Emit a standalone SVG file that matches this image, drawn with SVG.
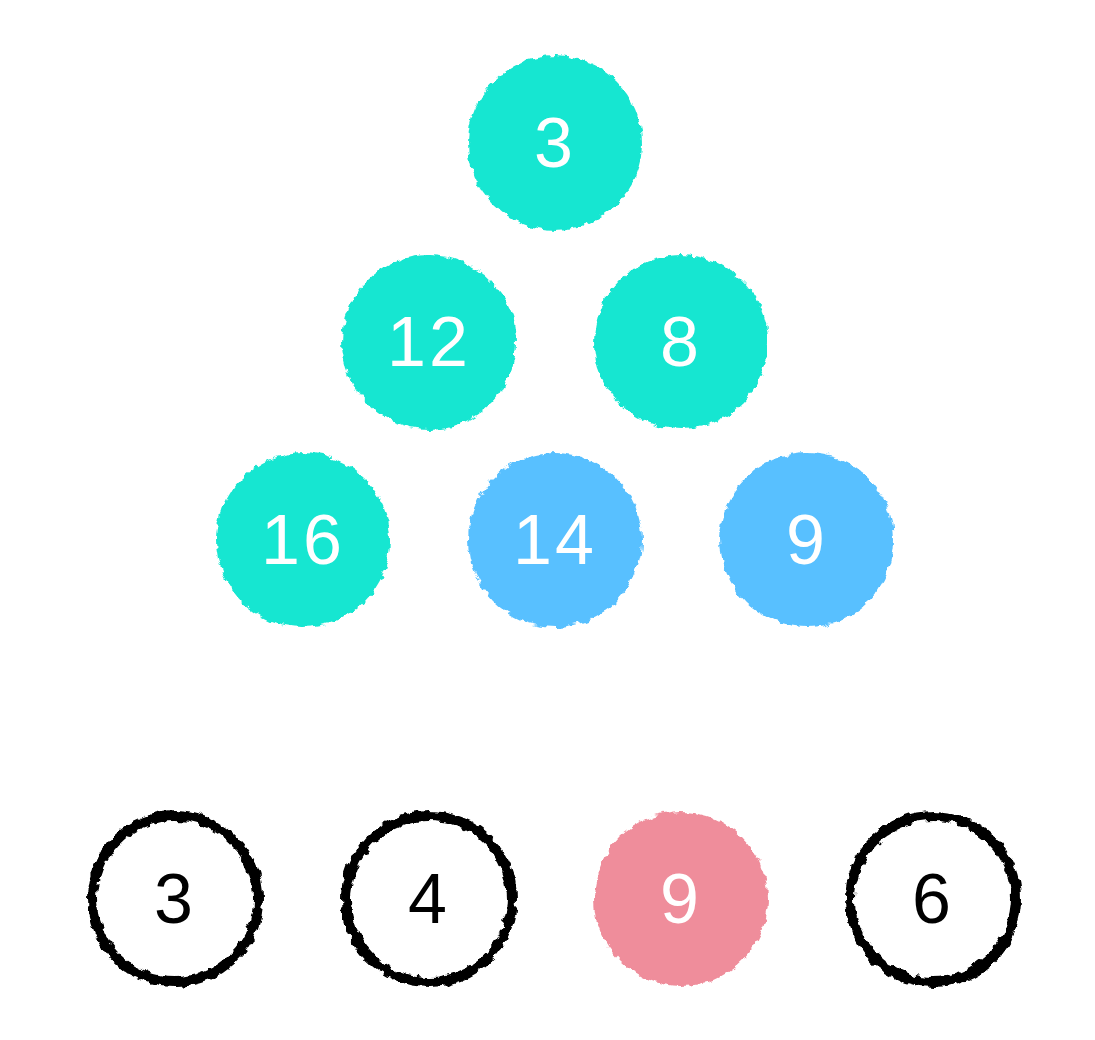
<svg xmlns="http://www.w3.org/2000/svg" width="1095" height="1040" viewBox="0 0 1095 1040">
<defs>
<filter id="rough" x="-10%" y="-10%" width="120%" height="120%">
<feTurbulence type="fractalNoise" baseFrequency="0.12" numOctaves="2" seed="3" result="n"/>
<feDisplacementMap in="SourceGraphic" in2="n" scale="8" xChannelSelector="R" yChannelSelector="G"/>
</filter>
</defs>
<style>
.t{fill:#19e6d1}
.b{fill:#58c0ff}
.p{fill:#ef8d9b}
.o{fill:none;stroke:#000;stroke-width:10}
text{font-family:"Liberation Sans","DejaVu Sans",sans-serif;font-size:70px;text-anchor:middle;dominant-baseline:central;letter-spacing:3px}
.w{fill:#fff}
.k{fill:#000}
</style>
<rect width="1095" height="1040" fill="#fff"/>
<g id="connectors"></g>
<g id="n1"><circle class="t" cx="555" cy="143" r="87" filter="url(#rough)"/><text class="w" x="555" y="143">3</text></g>
<g id="n2"><circle class="t" cx="429" cy="342" r="87" filter="url(#rough)"/><text class="w" x="429" y="342">12</text></g>
<g id="n3"><circle class="t" cx="681" cy="342" r="87" filter="url(#rough)"/><text class="w" x="681" y="342">8</text></g>
<g id="n4"><circle class="t" cx="303" cy="540" r="87" filter="url(#rough)"/><text class="w" x="303" y="540">16</text></g>
<g id="n5"><circle class="b" cx="555" cy="540" r="87" filter="url(#rough)"/><text class="w" x="555" y="540">14</text></g>
<g id="n6"><circle class="b" cx="807" cy="540" r="87" filter="url(#rough)"/><text class="w" x="807" y="540">9</text></g>
<g id="n7"><circle class="o" cx="175" cy="899" r="83" filter="url(#rough)"/><text class="k" x="175" y="899">3</text></g>
<g id="n8"><circle class="o" cx="429" cy="899" r="83" filter="url(#rough)"/><text class="k" x="429" y="899">4</text></g>
<g id="n9"><circle class="p" cx="681" cy="899" r="87" filter="url(#rough)"/><text class="w" x="681" y="899">9</text></g>
<g id="n10"><circle class="o" cx="933" cy="899" r="83" filter="url(#rough)"/><text class="k" x="933" y="899">6</text></g>
</svg>
